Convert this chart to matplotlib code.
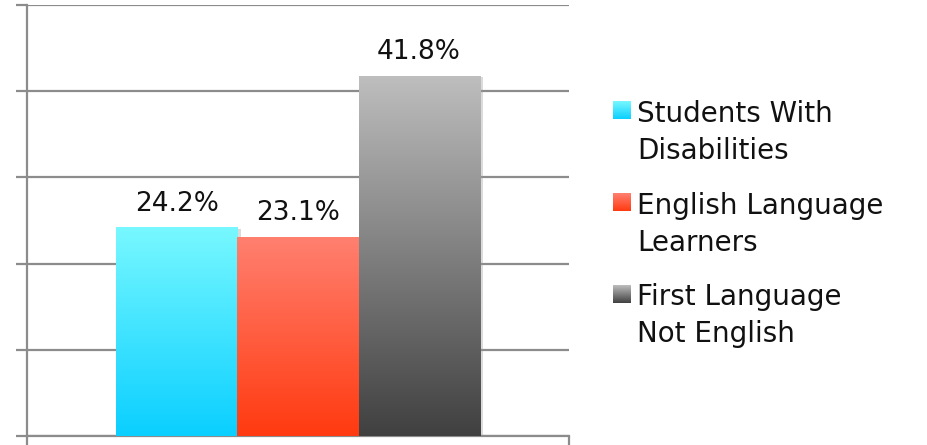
import matplotlib
matplotlib.use("Agg")
import matplotlib.pyplot as plt
import matplotlib.patheffects as pe
from matplotlib.colors import LinearSegmentedColormap
import numpy as np

plt.rcParams['font.family'] = ['DejaVu Sans']

series = ["Students With\nDisabilities", "English Language\nLearners", "First Language\nNot English"]
values = [24.2, 23.1, 41.8]
labels = ["24.2%", "23.1%", "41.8%"]
top_colors = ["#78f8ff", "#ff8070", "#bebebe"]
bottom_colors = ["#0acfff", "#ff3a10", "#404040"]

W, H = 928, 445
fig = plt.figure(figsize=(W / 100, H / 100), dpi=100)
ax = fig.add_axes([27 / W, 1 - 436 / H, (569 - 27) / W, (436 - 5) / H])

n = len(values)
width = 0.67 / n
xs = (np.arange(n) - (n - 1) / 2) * width
grad = np.linspace(0, 1, 256).reshape(-1, 1)

bars = ax.bar(xs, values, width=width, facecolor="none", edgecolor="none", zorder=2,
              path_effects=[pe.SimplePatchShadow(offset=(2.5, -1), shadow_rgbFace="#999999", alpha=0.35)])
for b, c0, c1, lab in zip(bars, top_colors, bottom_colors, labels):
    cmap = LinearSegmentedColormap.from_list("g", [c0, c1])
    x0, y0 = b.get_x(), b.get_y()
    im = ax.imshow(grad, cmap=cmap, aspect="auto", zorder=3,
                   extent=(x0, x0 + b.get_width(), y0, y0 + b.get_height()), origin="upper")
    im.set_clip_path(b)
    ax.annotate(lab, (x0 + b.get_width() / 2, y0 + b.get_height()), xytext=(0, 12),
                textcoords="offset points", ha="center", va="baseline", fontsize=19, color="#111111")

ax.set_xlim(-0.5, 0.5)
ax.set_ylim(0, 50)
ax.set_yticks(np.arange(0, 51, 10))
ax.set_yticklabels([])
ax.set_xticks([-0.5, 0.5])
ax.set_xticklabels([])
ax.grid(axis="y", color="#8c8c8c", linewidth=1.6, zorder=1)
ax.set_axisbelow(True)
ax.tick_params(axis="y", length=8, width=1.6, color="#8c8c8c", direction="out")
ax.tick_params(axis="x", length=8, width=1.6, color="#8c8c8c", direction="out")
for s in ["top", "right"]:
    ax.spines[s].set_visible(False)
for s in ["left", "bottom"]:
    ax.spines[s].set_color("#8c8c8c")
    ax.spines[s].set_linewidth(1.6)

# legend drawn by hand: square top-aligned with first text line
box_top = [101, 193, 285]
last_baseline = [159, 251, 342]
for name, c0, c1, ty, by in zip(series, top_colors, bottom_colors, box_top, last_baseline):
    cmap = LinearSegmentedColormap.from_list("g", [c0, c1])
    lax = fig.add_axes([613 / W, 1 - (ty + 18) / H, 18 / W, 18 / H])
    lax.imshow(grad, cmap=cmap, aspect="auto")
    lax.axis("off")
    fig.text(637 / W, 1 - by / H, name, ha="left", va="baseline", fontsize=20,
             color="#111111", linespacing=1.41)

fig.savefig("out.png", dpi=100)
